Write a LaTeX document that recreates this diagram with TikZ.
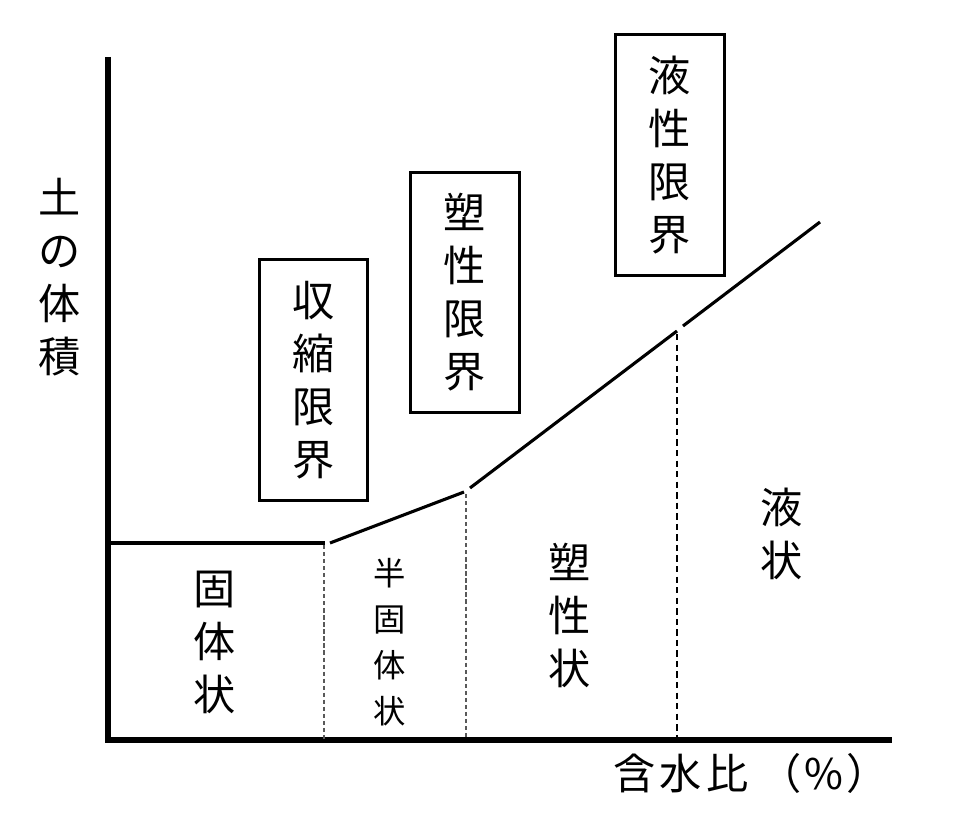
\documentclass[tikz,border=0pt]{standalone}
\usepackage{fontspec}
\newfontfamily\jpfont{Noto Sans CJK JP}
\usetikzlibrary{%
  calc,
  positioning,
}

\tikzset{
  axis/.style = {line width = 3.6pt},
  curve/.style = {line width = 2.2pt},
  limitbox/.style = {draw, line width = 2.1pt,
    minimum width = 2.72cm, minimum height = 6cm,
    align = center, inner sep = 0pt,
    font = \jpfont\fontsize{30}{37.7}\selectfont},
  region/.style = {align = center, inner sep = 0pt,
    font = \jpfont\fontsize{30}{37.7}\selectfont},
  smallregion/.style = {align = center, inner sep = 0pt,
    font = \jpfont\fontsize{23}{32.7}\selectfont},
  softdash/.style = {densely dashed, gray!70!black, line width = 1.1pt},
  harddash/.style = {dash pattern = on 4.5pt off 3pt, line width = 1.6pt},
}

\begin{document}
\begin{tikzpicture}[x = 0.025cm, y = -0.025cm]
  \useasboundingbox (0,0) rectangle (960,814);

  % axes, pixel units with y downwards
  \coordinate (O) at (108,740);
  \coordinate (Yt) at (108,57);
  \coordinate (Xe) at (892,740);
  \draw[axis] (Yt) -- (O) -- (Xe);

  % volume line, broken at each limit
  \coordinate (A0) at (108,543);
  \coordinate (A1) at (325,543);
  \coordinate (B0) at (330,543);
  \coordinate (B1) at (464,492);
  \coordinate (C0) at (470,488);
  \coordinate (C1) at (677,331);
  \coordinate (D0) at (683,326);
  \coordinate (D1) at (820,222);
  \draw[curve] (A0) -- (A1);
  \draw[curve] (B0) -- (B1);
  \draw[curve] (C0) -- (C1);
  \draw[curve] (D0) -- (D1);

  % state boundaries
  \coordinate (S1) at (324,545);
  \coordinate (S2) at (466,494);
  \coordinate (S3) at (677,334);
  \draw[softdash] (S1) -- (S1 |- O);
  \draw[softdash] (S2) -- (S2 |- O);
  \draw[harddash] (S3) -- (S3 |- O);

  % limits
  \node[limitbox] (shrink) at (313.5,380) {収\\縮\\限\\界};
  \node[limitbox] (plastic) at (465,292.5) {塑\\性\\限\\界};
  \node[limitbox] (liquid) at (670,155) {液\\性\\限\\界};

  % states
  \node[region] (solid) at (215,642) {固\\体\\状};
  \node[smallregion] (semi) at (390,642) {半\\固\\体\\状};
  \node[region] (plast) at (570,615) {塑\\性\\状};
  \node[region] (liq) at (782,534) {液\\状};

  % axis labels
  \node[region] (ylab) at (60,277) {土\\の\\体\\積};
  \node[region, anchor = west] (xlab) at (613,773)
    {含\hspace{3pt}水\hspace{3pt}比\hspace{8pt}（\hspace{2pt}\%\hspace{2pt}）};
\end{tikzpicture}
\end{document}
